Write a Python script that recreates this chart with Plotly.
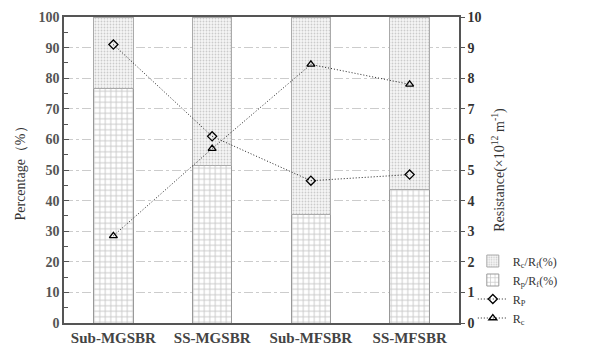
import plotly.graph_objects as go

categories = ["Sub-MGSBR", "SS-MGSBR", "Sub-MFSBR", "SS-MFSBR"]
rp_rf_pct = [76.5, 51.5, 35.5, 43.5]
rc_rf_pct = [23.5, 48.5, 64.5, 56.5]
rp_res = [9.1, 6.1, 4.65, 4.85]
rc_res = [2.85, 5.7, 8.45, 7.8]

FONT = "Liberation Serif"
fig = go.Figure()

fig.add_trace(go.Bar(
    x=categories, y=rp_rf_pct, name="R<sub>p</sub>/R<sub>f</sub>(%)",
    marker=dict(color="white", line=dict(color="#999999", width=1),
                pattern=dict(shape="+", fgcolor="#8f8f8f", bgcolor="white", size=5.5, solidity=0.3)),
    legendrank=2,
))
fig.add_trace(go.Bar(
    x=categories, y=rc_rf_pct, name="R<sub>c</sub>/R<sub>f</sub>(%)",
    marker=dict(color="#f4f4f4", line=dict(color="#aaaaaa", width=1),
                pattern=dict(shape=".", fgcolor="#a0a0a0", bgcolor="#f6f6f6", size=3, solidity=0.3)),
    legendrank=1,
))
fig.add_trace(go.Scatter(
    x=categories, y=rp_res, name="R<sub>P</sub>", yaxis="y2", mode="lines+markers",
    line=dict(color="#222222", width=1, dash="1px,2px"),
    marker=dict(symbol="diamond-open", size=7, color="black", line=dict(width=1.3)),
    legendrank=3,
))
fig.add_trace(go.Scatter(
    x=categories, y=rc_res, name="R<sub>c</sub>", yaxis="y2", mode="lines+markers",
    line=dict(color="#222222", width=1, dash="1px,2px"),
    marker=dict(symbol="triangle-up-open", size=7, color="black", line=dict(width=1.3)),
    legendrank=4,
))

fig.update_layout(
    width=581, height=336,
    margin=dict(l=56, r=130, t=9, b=21, autoexpand=False),
    barmode="stack", bargap=0.6,
    plot_bgcolor="white", paper_bgcolor="white",
    font=dict(family=FONT, color="#333333", size=13),
    showlegend=True,
    legend=dict(x=1.035, y=0.25, xanchor="left", yanchor="top",
                traceorder="normal", font=dict(family=FONT, size=12, color="#333333"),
                bgcolor="rgba(0,0,0,0)", itemwidth=30, tracegroupgap=0),
    xaxis=dict(
        automargin=False,
        showline=True, linecolor="#555555", linewidth=1.5, mirror=True,
        ticks="", tickfont=dict(family=FONT, size=15, color="#444444", weight="bold"),
    ),
    yaxis=dict(
        automargin=False,
        range=[0, 100], dtick=10, showline=True, linecolor="#555555", linewidth=1.5,
        ticks="inside", ticklen=5, tickcolor="#555555",
        minor=dict(dtick=5, ticks="inside", ticklen=4, tickcolor="#555555", showgrid=False),
        showgrid=True, gridcolor="#cccccc", griddash="dashdot", gridwidth=1,
        zeroline=False,
        tickfont=dict(family=FONT, size=14, color="#555555", weight="bold"),
        title=dict(text="Percentage（%）", font=dict(family=FONT, size=14, color="#333333"), standoff=10),
    ),
    yaxis2=dict(
        automargin=False,
        range=[0, 10], dtick=1, overlaying="y", side="right",
        showline=True, linecolor="#555555", linewidth=1.5,
        ticks="outside", ticklen=4, tickcolor="#555555", showgrid=False, zeroline=False,
        tickfont=dict(family=FONT, size=14, color="#333333", weight="bold"),
        title=dict(text="Resistance(×10<sup>12</sup> m<sup>-1</sup>)",
                   font=dict(family=FONT, size=14, color="#333333"), standoff=14),
    ),
)

fig.write_html("out.html")
